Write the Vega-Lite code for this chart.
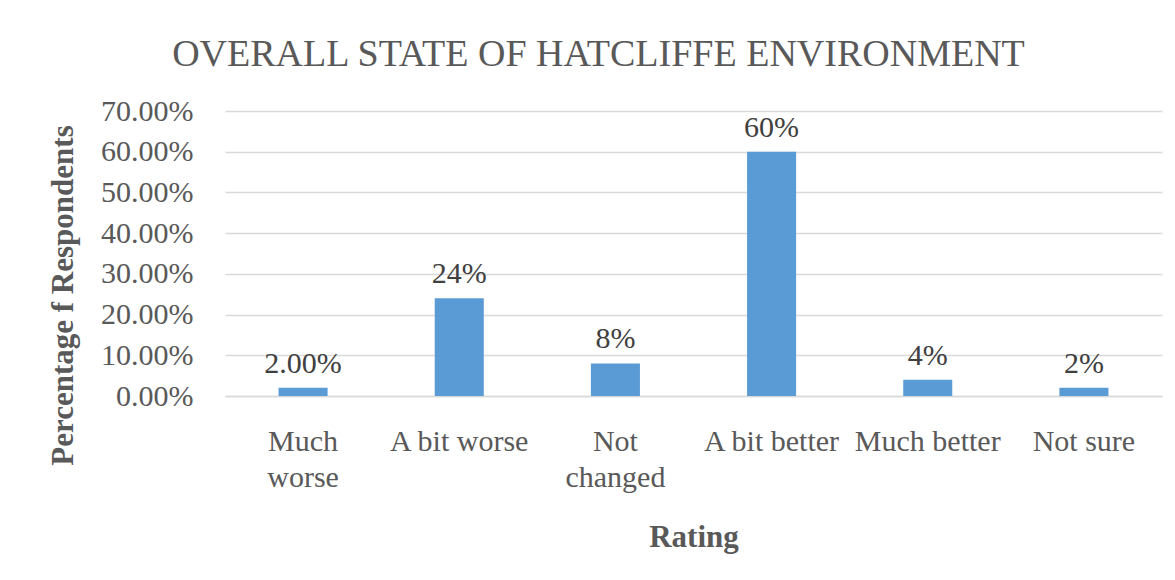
{
  "$schema": "https://vega.github.io/schema/vega-lite/v6.json",
  "width": 937,
  "height": 285,
  "autosize": {"type": "none"},
  "padding": {"left": 225, "top": 111, "right": 13, "bottom": 184},
  "background": "white",
  "title": {
    "text": "OVERALL STATE OF HATCLIFFE ENVIRONMENT",
    "font": "Liberation Serif, Times New Roman, serif",
    "fontSize": 38,
    "fontWeight": "normal",
    "color": "#595959",
    "anchor": "middle",
    "dx": -95,
    "offset": 22
  },
  "data": {
    "values": [
      {"rating": "Much worse", "pct": 0.02, "label": "2.00%"},
      {"rating": "A bit worse", "pct": 0.24, "label": "24%"},
      {"rating": "Not changed", "pct": 0.08, "label": "8%"},
      {"rating": "A bit better", "pct": 0.60, "label": "60%"},
      {"rating": "Much better", "pct": 0.04, "label": "4%"},
      {"rating": "Not sure", "pct": 0.02, "label": "2%"}
    ]
  },
  "encoding": {
    "x": {
      "field": "rating",
      "type": "nominal",
      "sort": null,
      "scale": {"paddingInner": 0.686, "paddingOuter": 0.343},
      "axis": {
        "title": "Rating",
        "labelAngle": 0,
        "labelExpr": "datum.value == 'Much worse' ? ['Much','worse'] : datum.value == 'Not changed' ? ['Not','changed'] : datum.value",
        "labelLineHeight": 36,
        "labelPadding": 30,
        "labelBaseline": "top",
        "labelOverlap": false,
        "ticks": false,
        "domain": true,
        "domainColor": "#D9D9D9",
        "domainWidth": 1.5,
        "titleY": 141,
        "titleBaseline": "middle"
      }
    },
    "y": {
      "field": "pct",
      "type": "quantitative",
      "scale": {"domain": [0, 0.7], "nice": false},
      "axis": {
        "title": "Percentage f Respondents",
        "format": ".2%",
        "values": [0, 0.1, 0.2, 0.3, 0.4, 0.5, 0.6, 0.7],
        "labelOverlap": false,
        "ticks": false,
        "domain": false,
        "grid": true,
        "gridColor": "#D9D9D9",
        "gridWidth": 1.5,
        "labelPadding": 32,
        "titleX": -162,
        "titleY": 184,
        "titleAlign": "center",
        "titleBaseline": "middle",
        "titleAngle": -90
      }
    }
  },
  "layer": [
    {"mark": {"type": "bar", "color": "#5B9BD5"}},
    {
      "mark": {
        "type": "text",
        "baseline": "bottom",
        "dy": -9,
        "font": "Liberation Serif, Times New Roman, serif",
        "fontSize": 30,
        "color": "#404040"
      },
      "encoding": {"text": {"field": "label"}}
    }
  ],
  "config": {
    "view": {"stroke": null},
    "axis": {
      "labelFont": "Liberation Serif, Times New Roman, serif",
      "labelFontSize": 30,
      "labelColor": "#595959",
      "titleFont": "Liberation Serif, Times New Roman, serif",
      "titleFontSize": 31,
      "titleFontWeight": "bold",
      "titleColor": "#595959"
    }
  }
}
